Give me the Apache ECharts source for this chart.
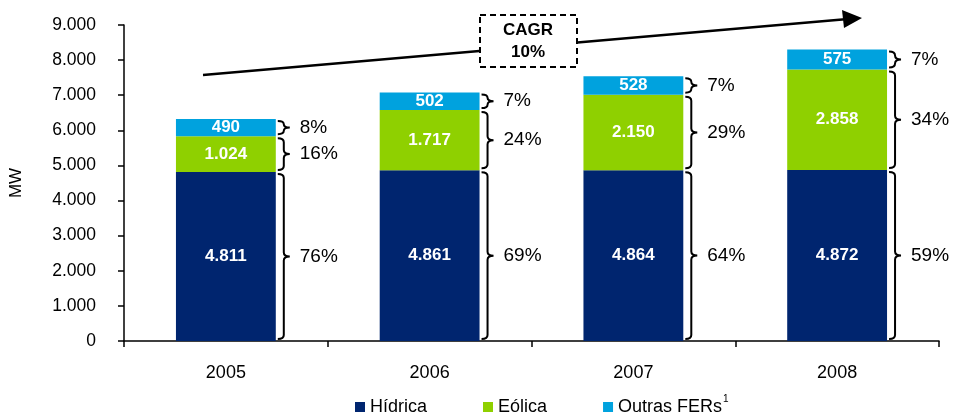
<!DOCTYPE html>
<html lang="pt">
<head>
  <meta charset="UTF-8" />
  <title>Capacidade FER - MW</title>
  <script src="https://cdn.jsdelivr.net/npm/echarts@6.0.0/dist/echarts.min.js"></script>
  <style>
    body { margin: 0; background: #fff; }
    #chart { width: 954px; height: 418px; }
  </style>
</head>
<body>
  <div id="chart"></div>
  <script>
    // data
    const years = ['2005', '2006', '2007', '2008'];
    const hidrica = [4811, 4861, 4864, 4872];
    const eolica = [1024, 1717, 2150, 2858];
    const outras = [490, 502, 528, 575];
    const pctHidrica = [76, 69, 64, 59];
    const pctEolica = [16, 24, 29, 34];
    const pctOutras = [8, 7, 7, 7];
    const yTicks = { min: 0, max: 9000, interval: 1000 };

    const FONT = "'Liberation Sans', Arial, sans-serif";
    const BAR_RATIO = 0.49;

    function fmt(v) {
      return String(v).replace(/\B(?=(\d{3})+(?!\d))/g, '.');
    }

    // bracket rows: [categoryIndex, from, to, pct]
    const braces = [];
    years.forEach((y, i) => {
      const a = hidrica[i], b = a + eolica[i], c = b + outras[i];
      braces.push([i, 0, a, pctHidrica[i]]);
      braces.push([i, a, b, pctEolica[i]]);
      braces.push([i, b, c, pctOutras[i]]);
    });

    const chart = echarts.init(document.getElementById('chart'));

    function barSeries(name, data, color) {
      return {
        name: name,
        type: 'bar',
        stack: 'total',
        data: data,
        barWidth: (BAR_RATIO * 100) + '%',
        itemStyle: { color: color },
        label: {
          show: true,
          position: 'inside',
          color: '#fff',
          fontWeight: 'bold',
          fontSize: 17,
          fontFamily: FONT,
          formatter: p => fmt(p.value)
        }
      };
    }

    function renderBrace(params, api) {
      const idx = api.value(0);
      const lo = api.coord([idx, api.value(1)]);
      const hi = api.coord([idx, api.value(2)]);
      const band = api.size([1, 0])[0];
      const right = lo[0] + band * BAR_RATIO / 2;
      const top = hi[1] + 2, bottom = lo[1] - 2;
      const mid = (top + bottom) / 2;
      const x0 = right + 2, x1 = right + 8, x2 = right + 14;
      const r = Math.min(4, (bottom - top) / 4);
      const path =
        'M' + x0 + ',' + top +
        ' Q' + x1 + ',' + top + ' ' + x1 + ',' + (top + r) +
        ' L' + x1 + ',' + (mid - r) +
        ' Q' + x1 + ',' + mid + ' ' + x2 + ',' + mid +
        ' Q' + x1 + ',' + mid + ' ' + x1 + ',' + (mid + r) +
        ' L' + x1 + ',' + (bottom - r) +
        ' Q' + x1 + ',' + bottom + ' ' + x0 + ',' + bottom;
      return {
        type: 'group',
        children: [
          {
            type: 'path',
            shape: { pathData: path },
            style: { fill: null, stroke: '#000', lineWidth: 2 }
          },
          {
            type: 'text',
            style: {
              x: x2 + 10, y: mid,
              text: api.value(3) + '%',
              fill: '#000',
              font: '19px ' + FONT,
              textAlign: 'left',
              textVerticalAlign: 'middle'
            }
          }
        ]
      };
    }

    const option = {
      animation: false,
      backgroundColor: '#fff',
      grid: { left: 121, right: 15, top: 25, bottom: 77 },
      legend: {
        bottom: -3,
        left: 350,
        itemWidth: 10,
        itemHeight: 10,
        itemGap: 56,
        icon: 'rect',
        textStyle: {
          fontFamily: FONT, fontSize: 18, color: '#000',
          rich: { sup: { fontSize: 10, verticalAlign: 'top', padding: [0, 0, 16, 1] } }
        },
        formatter: n => n === 'Outras FERs' ? 'Outras FERs{sup|1}' : n,
        data: ['Hídrica', 'Eólica', 'Outras FERs']
      },
      xAxis: {
        type: 'category',
        data: years,
        axisLine: { lineStyle: { color: '#000', width: 1.5 } },
        axisTick: { show: true, length: 6, lineStyle: { color: '#000', width: 1.5 } },
        axisLabel: { color: '#000', fontSize: 18, fontFamily: FONT, margin: 23 }
      },
      yAxis: {
        type: 'value',
        min: yTicks.min,
        max: yTicks.max,
        interval: yTicks.interval,
        name: 'MW',
        nameLocation: 'middle',
        nameGap: 99,
        nameTextStyle: { color: '#000', fontSize: 17, fontFamily: FONT },
        splitLine: { show: false },
        axisLine: { show: true, lineStyle: { color: '#000', width: 1.5 } },
        axisTick: { show: true, length: 6, lineStyle: { color: '#000', width: 1.5 } },
        axisLabel: { color: '#000', fontSize: 17.5, fontFamily: FONT, margin: 28, formatter: fmt }
      },
      series: [
        barSeries('Hídrica', hidrica, '#00256f'),
        barSeries('Eólica', eolica, '#8fd000'),
        barSeries('Outras FERs', outras, '#00a2de'),
        {
          type: 'custom',
          renderItem: renderBrace,
          data: braces,
          encode: { x: 0, y: [1, 2] },
          silent: true,
          z: 5
        }
      ],
      graphic: [
        {
          type: 'line',
          shape: { x1: 203, y1: 75, x2: 848, y2: 19 },
          style: { stroke: '#000', lineWidth: 2.5 }
        },
        {
          type: 'polygon',
          shape: { points: [[862, 18], [842, 10], [844, 28]] },
          style: { fill: '#000' }
        },
        {
          type: 'rect',
          shape: { x: 480, y: 15, width: 97, height: 52 },
          style: { fill: '#fff', stroke: '#000', lineWidth: 2, lineDash: [6, 4] },
          z: 10
        },
        {
          type: 'text',
          x: 528, y: 41,
          style: {
            text: 'CAGR\n10%',
            font: 'bold 17px ' + FONT,
            fill: '#000',
            textAlign: 'center',
            textVerticalAlign: 'middle',
            lineHeight: 22
          },
          z: 11
        }
      ]
    };

    chart.setOption(option);
    window.addEventListener('resize', () => chart.resize());
  </script>
</body>
</html>
